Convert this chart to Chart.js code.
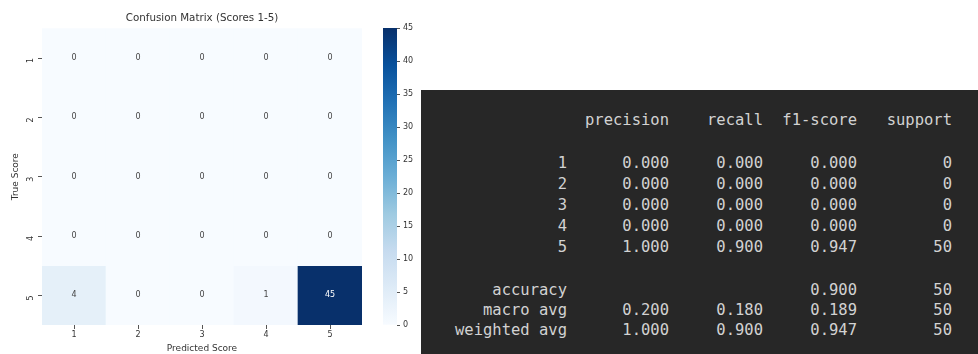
<!DOCTYPE html>
<html>
<head>
<meta charset="utf-8">
<script src="https://cdn.jsdelivr.net/npm/chart.js@4/dist/chart.umd.min.js"></script>
<style>
  html, body { margin: 0; padding: 0; background: #ffffff; }
  body { width: 978px; height: 354px; position: relative; overflow: hidden; }
  #heatWrap { position: absolute; left: 0; top: 0; width: 380px; height: 354px; }
  #barWrap { position: absolute; left: 370px; top: 0; width: 60px; height: 354px; }
  #report {
    position: absolute; left: 421px; top: 90px; width: 557px; height: 264px;
    background: #272727;
    font-family: "DejaVu Sans Mono", "Liberation Mono", monospace;
    font-size: 15.5px; color: #d2d2d2;
  }
  #report span { position: absolute; line-height: 20px; white-space: pre; }
</style>
</head>
<body>
<div id="heatWrap"><canvas id="heat" width="380" height="354"></canvas></div>
<div id="barWrap"><canvas id="cbar" width="60" height="354"></canvas></div>
<div id="report"></div>
<script>
// Confusion matrix: rows = true score, columns = predicted score
const predLabels = ['1', '2', '3', '4', '5'];
const trueLabels = ['1', '2', '3', '4', '5'];
const confusion = [
  [0, 0, 0, 0, 0],
  [0, 0, 0, 0, 0],
  [0, 0, 0, 0, 0],
  [0, 0, 0, 0, 0],
  [4, 0, 0, 1, 45]
];
const colorMin = 0;
const colorMax = 45;
const colorbarStep = 5;

// Classification report
const reportHeaders = ['precision', 'recall', 'f1-score', 'support'];
const reportClasses = ['1', '2', '3', '4', '5'];
const precision = [0.000, 0.000, 0.000, 0.000, 1.000];
const recall    = [0.000, 0.000, 0.000, 0.000, 0.900];
const f1Score   = [0.000, 0.000, 0.000, 0.000, 0.947];
const support   = [0, 0, 0, 0, 50];
const accuracy = 0.900;
const accuracySupport = 50;
const macroAvg    = [0.200, 0.180, 0.189, 50];
const weightedAvg = [1.000, 0.900, 0.947, 50];

// matplotlib "Blues" colormap anchors
const BLUES = ['#f7fbff', '#deebf7', '#c6dbef', '#9ecae1', '#6baed6',
               '#4292c6', '#2171b5', '#08519c', '#08306b'];
function hexToRgb(h) {
  return [parseInt(h.slice(1, 3), 16), parseInt(h.slice(3, 5), 16), parseInt(h.slice(5, 7), 16)];
}
function blues(t) {
  t = Math.max(0, Math.min(1, t));
  const pos = t * (BLUES.length - 1);
  const i = Math.min(Math.floor(pos), BLUES.length - 2);
  const f = pos - i;
  const a = hexToRgb(BLUES[i]), b = hexToRgb(BLUES[i + 1]);
  const c = a.map((v, k) => Math.round(v + (b[k] - v) * f));
  return `rgb(${c[0]},${c[1]},${c[2]})`;
}
const norm = v => (v - colorMin) / (colorMax - colorMin);

const FONT = 'DejaVu Sans';
const INK = '#333333';

// Each true-score row is one stacked dataset of unit-height cells
const heatDatasets = trueLabels.map((lab, r) => ({
  label: 'True ' + lab,
  data: predLabels.map(() => 1),
  counts: confusion[r],
  backgroundColor: confusion[r].map(v => blues(norm(v))),
  borderWidth: 0,
  barPercentage: 1,
  categoryPercentage: 1,
  stack: 'cm'
}));

const cellText = {
  id: 'cellText',
  afterDatasetsDraw(chart) {
    const ctx = chart.ctx;
    ctx.save();
    ctx.font = `8px "${FONT}"`;
    ctx.textAlign = 'center';
    ctx.textBaseline = 'middle';
    chart.data.datasets.forEach((ds, r) => {
      chart.getDatasetMeta(r).data.forEach((el, c) => {
        const v = ds.counts[c];
        ctx.fillStyle = norm(v) > 0.6 ? '#ffffff' : '#444444';
        ctx.fillText(String(v), el.x, (el.y + el.base) / 2);
      });
    });
    ctx.restore();
  }
};

new Chart(document.getElementById('heat'), {
  type: 'bar',
  data: { labels: predLabels, datasets: heatDatasets },
  plugins: [cellText],
  options: {
    responsive: false,
    animation: false,
    layout: { padding: { left: 0, right: 18, top: 0, bottom: 0 } },
    plugins: {
      legend: { display: false },
      tooltip: { enabled: false },
      title: {
        display: true,
        fullSize: false,
        text: 'Confusion Matrix (Scores 1-5)',
        color: INK,
        font: { family: FONT, size: 10.3, weight: 'normal', lineHeight: 1.2 },
        padding: { top: 12, bottom: 4 }
      }
    },
    scales: {
      x: {
        type: 'category',
        stacked: true,
        offset: true,
        border: { display: false },
        grid: { display: true, drawOnChartArea: false, drawTicks: true, tickLength: 4, offset: false, color: '#555555' },
        ticks: { color: INK, font: { family: FONT, size: 8 }, padding: 1, maxRotation: 0 },
        title: { display: true, text: 'Predicted Score', color: INK, font: { family: FONT, size: 9, lineHeight: 1.2 }, padding: 0 },
        afterFit(s) { s.height = 29; }
      },
      y: {
        type: 'linear',
        stacked: true,
        reverse: true,
        min: 0,
        max: trueLabels.length,
        border: { display: false },
        grid: { display: true, drawOnChartArea: false, drawTicks: true, tickLength: 4, color: '#555555' },
        afterBuildTicks(s) { s.ticks = trueLabels.map((_, i) => ({ value: i + 0.5 })); },
        ticks: {
          color: INK, font: { family: FONT, size: 8 }, padding: 7,
          minRotation: 90, maxRotation: 90,
          callback: (v, i) => trueLabels[i]
        },
        title: { display: true, text: 'True Score', color: INK, font: { family: FONT, size: 9, lineHeight: 1.2 }, padding: { top: 10, bottom: 0 } },
        afterFit(s) { s.width = 42; }
      }
    }
  }
});

// Colour bar: one full-height bar filled with the Blues gradient
new Chart(document.getElementById('cbar'), {
  type: 'bar',
  data: {
    labels: [''],
    datasets: [{
      data: [[colorMin, colorMax]],
      borderWidth: 0,
      barPercentage: 1,
      categoryPercentage: 1,
      backgroundColor(ctx) {
        const a = ctx.chart.chartArea;
        if (!a) return BLUES[0];
        const g = ctx.chart.ctx.createLinearGradient(0, a.bottom, 0, a.top);
        BLUES.forEach((c, i) => g.addColorStop(i / (BLUES.length - 1), c));
        return g;
      }
    }]
  },
  options: {
    responsive: false,
    animation: false,
    layout: { padding: { left: 13, right: 0, top: 28, bottom: 29 } },
    plugins: { legend: { display: false }, tooltip: { enabled: false } },
    scales: {
      x: { display: false },
      y: {
        position: 'right',
        min: colorMin,
        max: colorMax,
        border: { display: false },
        grid: { display: true, drawOnChartArea: false, drawTicks: true, tickLength: 3, color: '#555555' },
        ticks: { stepSize: colorbarStep, color: INK, font: { family: FONT, size: 8 }, padding: 3 },
        afterFit(s) { s.width = 33; }
      }
    }
  }
});

// Classification report text
const report = document.getElementById('report');
const PANEL_LEFT = 421, PANEL_TOP = 90, PANEL_RIGHT = 978;
const colRight = [567, 669, 763, 857, 952];
const fmt = v => v.toFixed(3);
function put(text, col, y) {
  const s = document.createElement('span');
  s.textContent = text;
  s.style.right = (PANEL_RIGHT - colRight[col]) + 'px';
  s.style.top = (y - PANEL_TOP - 10) + 'px';
  report.appendChild(s);
}
const headerY = 120;
reportHeaders.forEach((h, i) => put(h, i + 1, headerY));
const classY = [162.5, 183.5, 204.5, 225.5, 246.5];
reportClasses.forEach((c, i) => {
  const y = classY[i];
  put(c, 0, y);
  put(fmt(precision[i]), 1, y);
  put(fmt(recall[i]), 2, y);
  put(fmt(f1Score[i]), 3, y);
  put(String(support[i]), 4, y);
});
put('accuracy', 0, 290);
put(fmt(accuracy), 3, 290);
put(String(accuracySupport), 4, 290);
[['macro avg', macroAvg, 310], ['weighted avg', weightedAvg, 330]].forEach(([name, vals, y]) => {
  put(name, 0, y);
  put(fmt(vals[0]), 1, y);
  put(fmt(vals[1]), 2, y);
  put(fmt(vals[2]), 3, y);
  put(String(vals[3]), 4, y);
});
</script>
</body>
</html>
